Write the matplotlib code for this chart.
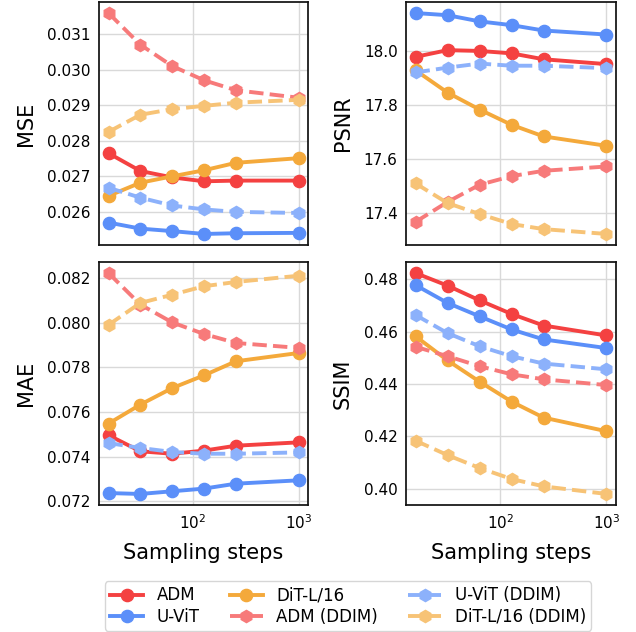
import matplotlib
matplotlib.use("Agg")
import matplotlib.pyplot as plt
from matplotlib.colors import to_rgb

steps = [16, 32, 64, 128, 256, 1000]

mse_adm = [0.02765, 0.02715, 0.02697, 0.02686, 0.02688, 0.02688]
mse_uvit = [0.02570, 0.02553, 0.02546, 0.02538, 0.02540, 0.02541]
mse_dit = [0.02645, 0.02682, 0.02700, 0.02717, 0.02738, 0.02751]
mse_adm_ddim = [0.03159, 0.03070, 0.03010, 0.02970, 0.02942, 0.02921]
mse_uvit_ddim = [0.02668, 0.02640, 0.02618, 0.02607, 0.02600, 0.02597]
mse_dit_ddim = [0.02825, 0.02873, 0.02889, 0.02898, 0.02907, 0.02915]

psnr_adm = [17.980, 18.005, 18.002, 17.993, 17.971, 17.953]
psnr_uvit = [18.143, 18.135, 18.112, 18.098, 18.078, 18.063]
psnr_dit = [17.930, 17.847, 17.784, 17.727, 17.684, 17.649]
psnr_adm_ddim = [17.366, 17.440, 17.504, 17.536, 17.556, 17.572]
psnr_uvit_ddim = [17.922, 17.940, 17.955, 17.947, 17.947, 17.938]
psnr_dit_ddim = [17.509, 17.436, 17.395, 17.358, 17.339, 17.321]

mae_adm = [0.07496, 0.07424, 0.07413, 0.07427, 0.07449, 0.07464]
mae_uvit = [0.07237, 0.07233, 0.07245, 0.07257, 0.07279, 0.07294]
mae_dit = [0.07548, 0.07633, 0.07707, 0.07764, 0.07827, 0.07864]
mae_adm_ddim = [0.08222, 0.08081, 0.08001, 0.07949, 0.07909, 0.07887]
mae_uvit_ddim = [0.07461, 0.07439, 0.07421, 0.07413, 0.07413, 0.07419]
mae_dit_ddim = [0.07990, 0.08088, 0.08125, 0.08163, 0.08182, 0.08210]

ssim_adm = [0.4823, 0.4775, 0.4719, 0.4667, 0.4623, 0.4585]
ssim_uvit = [0.4777, 0.4709, 0.4658, 0.4608, 0.4570, 0.4537]
ssim_dit = [0.4582, 0.4490, 0.4409, 0.4333, 0.4272, 0.4220]
ssim_adm_ddim = [0.4542, 0.4506, 0.4468, 0.4437, 0.4418, 0.4396]
ssim_uvit_ddim = [0.4663, 0.4594, 0.4544, 0.4506, 0.4478, 0.4456]
ssim_dit_ddim = [0.4184, 0.4129, 0.4080, 0.4038, 0.4010, 0.3981]

series_names = ["ADM", "U-ViT", "DiT-L/16", "ADM (DDIM)", "U-ViT (DDIM)", "DiT-L/16 (DDIM)"]
metric_names = ["MSE", "PSNR", "MAE", "SSIM"]
metric_data = [
    [mse_adm, mse_uvit, mse_dit, mse_adm_ddim, mse_uvit_ddim, mse_dit_ddim],
    [psnr_adm, psnr_uvit, psnr_dit, psnr_adm_ddim, psnr_uvit_ddim, psnr_dit_ddim],
    [mae_adm, mae_uvit, mae_dit, mae_adm_ddim, mae_uvit_ddim, mae_dit_ddim],
    [ssim_adm, ssim_uvit, ssim_dit, ssim_adm_ddim, ssim_uvit_ddim, ssim_dit_ddim],
]

red = "#F44141"
blue = "#5B8FF9"
orange = "#F4A93B"


def lighten(c, a=0.7):
    r, g, b = to_rgb(c)
    return (r * a + (1 - a), g * a + (1 - a), b * a + (1 - a))


styles = [
    dict(color=red, ls="-", marker="o"),
    dict(color=blue, ls="-", marker="o"),
    dict(color=orange, ls="-", marker="o"),
    dict(color=lighten(red), ls="--", marker="h"),
    dict(color=lighten(blue), ls="--", marker="h"),
    dict(color=lighten(orange), ls="--", marker="h"),
]

fig = plt.figure(figsize=(6.36, 6.32), dpi=100)
W, H = 636, 632
cols = [(99, 308), (406, 616)]
rows = [(2, 245), (262, 505)]
axes = []
for r in range(2):
    for c in range(2):
        x0, x1 = cols[c]
        y0, y1 = rows[r]
        ax = fig.add_axes([x0 / W, 1 - y1 / H, (x1 - x0) / W, (y1 - y0) / H])
        axes.append(ax)

yticks = [
    [0.026, 0.027, 0.028, 0.029, 0.030, 0.031],
    [17.4, 17.6, 17.8, 18.0],
    [0.072, 0.074, 0.076, 0.078, 0.080, 0.082],
    [0.40, 0.42, 0.44, 0.46, 0.48],
]
yfmt = ["{:.3f}", "{:.1f}", "{:.3f}", "{:.2f}"]

handles = []
for i, ax in enumerate(axes):
    for j, name in enumerate(series_names):
        st = styles[j]
        h, = ax.plot(steps, metric_data[i][j], color=st["color"], ls=st["ls"],
                     marker=st["marker"], lw=2.8, ms=8.8,
                     label=name, zorder=3)
        if i == 0:
            handles.append(h)
    ax.set_xscale("log")
    ax.set_yticks(yticks[i])
    ax.set_yticklabels([yfmt[i].format(v) for v in yticks[i]])
    ax.grid(True, color="#d9d9d9", lw=1.0, zorder=0)
    ax.minorticks_off()
    ax.tick_params(axis="both", which="both", length=0, labelsize=11, pad=6)
    for s in ax.spines.values():
        s.set_color("#111111")
        s.set_linewidth(1.25)
    ax.set_ylabel(metric_names[i], fontsize=15, labelpad=8)
    if i < 2:
        ax.set_xticklabels([])
    else:
        ax.set_xlabel("Sampling steps", fontsize=15, labelpad=8)

fig.legend(handles=handles, labels=series_names, loc="center",
           bbox_to_anchor=(348 / W, 1 - 606 / H), ncol=3, fontsize=12,
           frameon=True, edgecolor="#cccccc", handlelength=2.0,
           columnspacing=1.8, borderpad=0.3, labelspacing=0.2)

fig.savefig("out.png", dpi=100)
